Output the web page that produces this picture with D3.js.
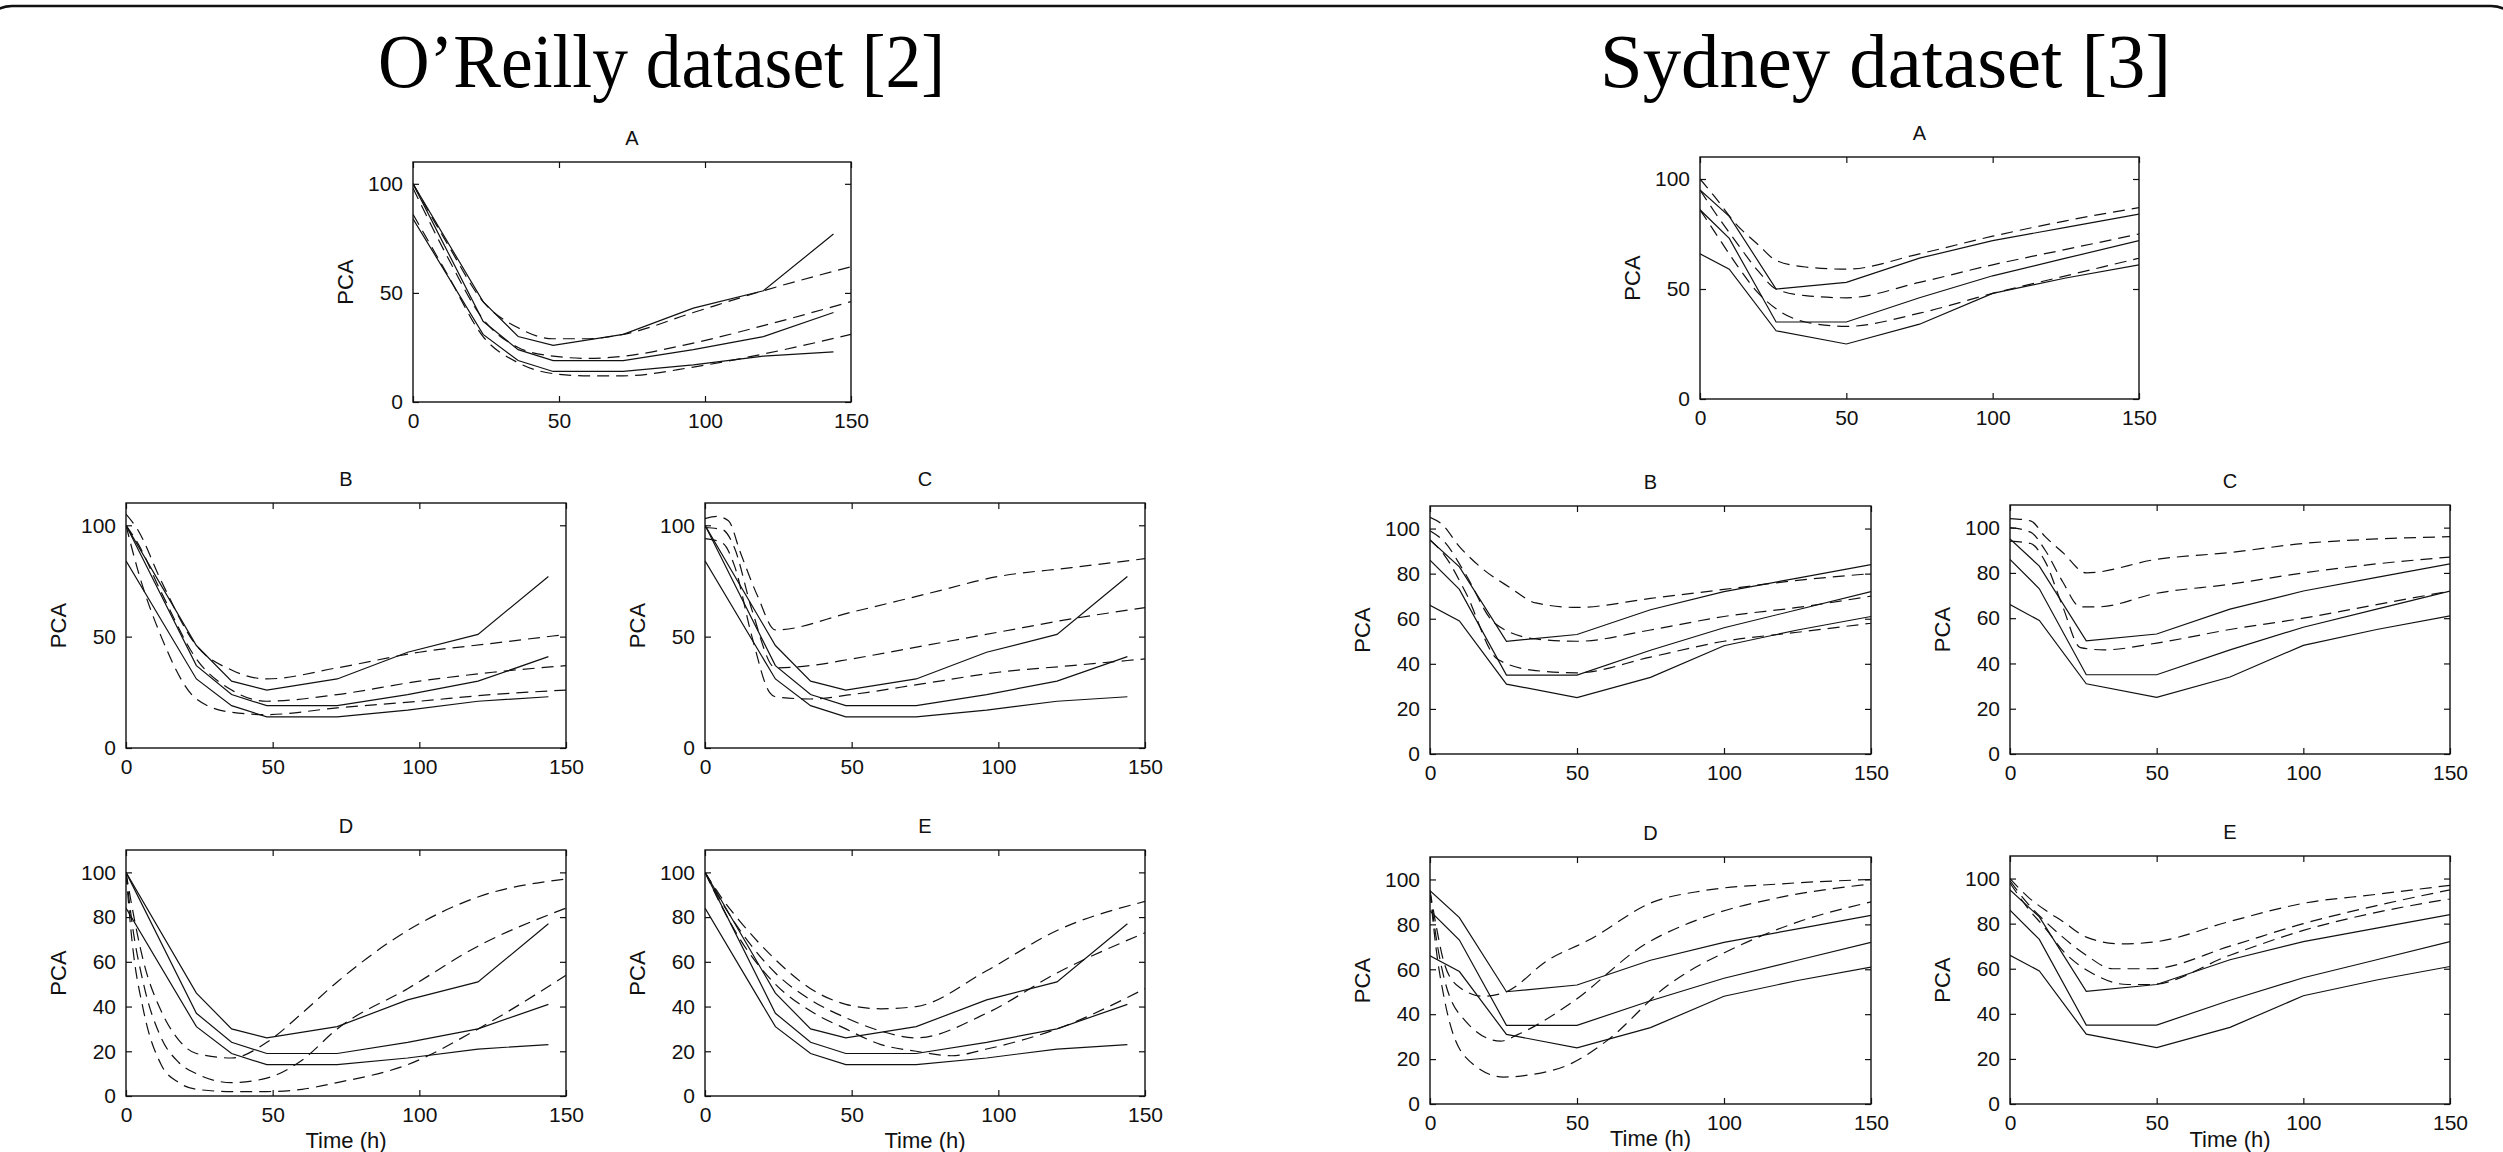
<!DOCTYPE html>
<html>
<head>
<meta charset="utf-8">
<script src="https://cdn.jsdelivr.net/npm/d3@7"></script>
<style>
  body { margin: 0; background: #fff; }
  svg { display: block; }
  .tick-label { font-family: "Liberation Sans", Arial, sans-serif; font-size: 21px; fill: #111; }
  .panel-title { font-family: "Liberation Sans", Arial, sans-serif; font-size: 20px; fill: #111; }
  .axis-label { font-family: "Liberation Sans", Arial, sans-serif; font-size: 22px; fill: #111; }
  .big-title { font-family: "Liberation Serif", "Times New Roman", serif; font-size: 76px; fill: #000; }
</style>
</head>
<body>
<div id="chart"></div>
<script>
'use strict';

// ---- data ----
// measured PCA values (solid lines), same in every panel of a dataset
const oreillyTimes = [0, 24, 36, 48, 72, 96, 120, 144];
const oreillyHigh  = [100, 46, 30, 26, 31, 43, 51, 77];
const oreillyMid   = [100, 37, 24, 19, 19, 24, 30, 41];
const oreillyLow   = [84, 31, 19, 14, 14, 17, 21, 23];

const sydneyTimes = [0, 10, 26, 50, 75, 100, 125, 150];
const sydneyHigh  = [95, 83, 50, 53, 64, 72, 78, 84];
const sydneyMid   = [86, 73, 35, 35, 46, 56, 64, 72];
const sydneyLow   = [66, 59, 31, 25, 34, 48, 55, 61];

// simulated curves (dashed lines), [time, PCA] pairs
const oreillySimA = [
  [[0,100],[12,72],[24,46],[36,34],[48,29],[60,29],[72,31],[96,41],[120,51],[150,62]],
  [[0,98],[12,66],[24,38],[36,25],[48,21],[60,20],[72,21],[96,27],[120,35],[150,46]],
  [[0,86],[12,58],[24,30],[36,18],[48,13],[60,12],[72,12],[96,16],[120,22],[150,31]]
];
const oreillySimB = [
  [[0,105],[4,98],[12,75],[24,46],[36,35],[48,31],[72,36],[100,43],[125,47],[150,51]],
  [[0,100],[4,92],[12,70],[24,40],[36,26],[48,21],[72,24],[100,30],[125,34],[150,37]],
  [[0,100],[4,80],[12,50],[24,22],[36,16],[48,15],[72,18],[100,21],[125,24],[150,26]]
];
const oreillySimC = [
  [[0,103],[4,104],[8,102],[12,88],[18,68],[24,53],[50,61],[75,69],[100,77],[125,81],[150,85]],
  [[0,99],[6,98],[10,90],[16,62],[24,36],[36,37],[50,40],[75,46],[100,52],[125,58],[150,63]],
  [[0,94],[6,92],[10,82],[16,50],[22,25],[24,23],[36,22],[50,24],[75,29],[100,34],[125,37],[150,40]]
];
const oreillySimD = [
  [[0,100],[2,85],[6,60],[12,38],[18,25],[24,19],[36,17],[48,24],[60,37],[72,51],[96,74],[120,89],[150,97]],
  [[0,100],[2,78],[6,50],[12,26],[18,15],[24,10],[36,6],[48,8],[60,16],[72,30],[96,48],[120,67],[150,84]],
  [[0,100],[2,70],[6,38],[12,14],[18,6],[24,3],[36,2],[48,2],[60,3],[72,6],[96,14],[120,30],[150,54]]
];
const oreillySimE = [
  [[0,100],[6,88],[12,78],[24,61],[36,48],[48,41],[60,39],[72,40],[96,56],[120,74],[150,87]],
  [[0,100],[6,86],[12,74],[24,55],[36,43],[48,35],[60,29],[72,26],[96,37],[120,55],[150,73]],
  [[0,100],[6,84],[12,70],[24,50],[36,38],[48,30],[60,23],[72,20],[84,18],[96,21],[120,30],[150,48]]
];

const sydneySimA = [
  [[0,100],[5,92],[12,80],[20,70],[26,63],[36,60],[50,59],[75,66],[100,74],[125,81],[150,87]],
  [[0,95],[5,85],[12,72],[20,58],[26,50],[36,47],[50,46],[75,53],[100,61],[125,68],[150,75]],
  [[0,86],[5,76],[12,62],[20,48],[26,41],[36,35],[50,33],[75,39],[100,48],[125,56],[150,64]]
];
const sydneySimB = [
  [[0,105],[4,102],[10,92],[18,82],[27,74],[36,67],[50,65],[75,69],[100,73],[125,77],[150,80]],
  [[0,99],[5,94],[12,80],[22,58],[36,51],[50,50],[75,55],[100,61],[125,65],[150,70]],
  [[0,95],[5,88],[12,72],[23,42],[36,37],[50,36],[75,43],[100,50],[125,54],[150,58]]
];
const sydneySimC = [
  [[0,104],[7,103],[12,96],[18,89],[26,80],[50,86],[75,89],[100,93],[125,95],[150,96]],
  [[0,100],[7,98],[12,90],[18,76],[24,65],[30,65],[50,71],[75,75],[100,80],[125,84],[150,87]],
  [[0,94],[7,93],[12,85],[18,65],[24,47],[32,46],[50,49],[75,55],[100,60],[125,66],[150,72]]
];
const sydneySimD = [
  [[0,95],[2,80],[5,62],[10,52],[18,48],[26,50],[40,64],[54,73],[76,90],[93,95],[119,98],[150,100]],
  [[0,95],[2,75],[5,55],[12,37],[24,28],[30,31],[48,45],[73,71],[93,83],[119,92],[150,98]],
  [[0,95],[2,70],[5,46],[12,21],[25,12],[34,13],[48,18],[60,28],[80,52],[106,71],[125,81],[150,90]]
];
const sydneySimE = [
  [[0,100],[6,92],[12,86],[18,81],[26,74],[38,71],[50,72],[75,81],[100,89],[125,93],[150,97]],
  [[0,99],[6,89],[12,81],[18,74],[26,66],[35,60],[48,60],[75,70],[100,80],[125,88],[150,95]],
  [[0,98],[6,87],[12,78],[18,68],[28,58],[40,53],[48,53],[75,66],[100,77],[125,85],[150,91]]
];

const xTicks = [0, 50, 100, 150];
const yTicksCoarse = [0, 50, 100];
const yTicksFine = [0, 20, 40, 60, 80, 100];
const datasetTitles = ["O\u2019Reilly dataset [2]", "Sydney dataset [3]"];

// ---- layout ----
const W = 2503, H = 1152;
const svg = d3.select("#chart").append("svg").attr("width", W).attr("height", H);

// rounded frame, only the top edge and top-left corner show
svg.append("rect")
  .attr("x", -18).attr("y", 6)
  .attr("width", W + 36).attr("height", H + 60)
  .attr("rx", 30)
  .attr("fill", "none").attr("stroke", "#111").attr("stroke-width", 2.5);

// big titles, slightly condensed like the original slide
svg.append("text").attr("class", "big-title").attr("x", 378).attr("y", 87)
  .attr("textLength", 567).attr("lengthAdjust", "spacingAndGlyphs")
  .text(datasetTitles[0]);
svg.append("text").attr("class", "big-title").attr("x", 1600).attr("y", 87)
  .attr("textLength", 571).attr("lengthAdjust", "spacingAndGlyphs")
  .text(datasetTitles[1]);

const oreillyObs = [oreillyHigh, oreillyMid, oreillyLow].map(v => v.map((d, i) => [oreillyTimes[i], d]));
const sydneyObs = [sydneyHigh, sydneyMid, sydneyLow].map(v => v.map((d, i) => [sydneyTimes[i], d]));

// box positions in px: x0, x1, y0(top), y1(bottom); tOff = offset of "Time (h)" baseline
const panels = [
  { name: "A", box: [413, 851, 162, 402],   yt: yTicksCoarse, obs: oreillyObs, sim: oreillySimA },
  { name: "B", box: [126, 566, 503, 748],   yt: yTicksCoarse, obs: oreillyObs, sim: oreillySimB },
  { name: "C", box: [705, 1145, 503, 748],  yt: yTicksCoarse, obs: oreillyObs, sim: oreillySimC },
  { name: "D", box: [126, 566, 850, 1096],  yt: yTicksFine,   obs: oreillyObs, sim: oreillySimD, tOff: 52 },
  { name: "E", box: [705, 1145, 850, 1096], yt: yTicksFine,   obs: oreillyObs, sim: oreillySimE, tOff: 52 },
  { name: "A", box: [1700, 2139, 157, 399], yt: yTicksCoarse, obs: sydneyObs, sim: sydneySimA },
  { name: "B", box: [1430, 1871, 506, 754], yt: yTicksFine,   obs: sydneyObs, sim: sydneySimB },
  { name: "C", box: [2010, 2450, 505, 754], yt: yTicksFine,   obs: sydneyObs, sim: sydneySimC },
  { name: "D", box: [1430, 1871, 857, 1104], yt: yTicksFine,  obs: sydneyObs, sim: sydneySimD, tOff: 42 },
  { name: "E", box: [2010, 2450, 856, 1104], yt: yTicksFine,  obs: sydneyObs, sim: sydneySimE, tOff: 43 }
];

panels.forEach(p => drawPanel(p));

function drawPanel(p) {
  const [x0, x1, y0, y1] = p.box;
  const x = d3.scaleLinear().domain([0, 150]).range([x0, x1]);
  const y = d3.scaleLinear().domain([0, 110]).range([y1, y0]);
  const g = svg.append("g");

  const clipId = "clip" + x0 + "_" + y0;
  g.append("clipPath").attr("id", clipId)
    .append("rect").attr("x", x0).attr("y", y0).attr("width", x1 - x0).attr("height", y1 - y0);

  // inward ticks on all four sides (matlab look)
  const tickLen = 6;
  g.append("g").attr("transform", `translate(0,${y1})`)
    .call(d3.axisBottom(x).tickValues(xTicks).tickSize(-tickLen).tickPadding(11).tickFormat(d3.format("d")));
  g.append("g").attr("transform", `translate(0,${y0})`)
    .call(d3.axisTop(x).tickValues(xTicks).tickSize(-tickLen).tickFormat(""));
  g.append("g").attr("transform", `translate(${x0},0)`)
    .call(d3.axisLeft(y).tickValues(p.yt).tickSize(-tickLen).tickPadding(10).tickFormat(d3.format("d")));
  g.append("g").attr("transform", `translate(${x1},0)`)
    .call(d3.axisRight(y).tickValues(p.yt).tickSize(-tickLen).tickFormat(""));

  g.selectAll(".domain").remove();
  g.selectAll(".tick line").attr("stroke", "#111").attr("stroke-width", 1.2);
  g.selectAll(".tick text").attr("class", "tick-label").attr("fill", null);

  g.append("rect")
    .attr("x", x0).attr("y", y0).attr("width", x1 - x0).attr("height", y1 - y0)
    .attr("fill", "none").attr("stroke", "#111").attr("stroke-width", 1.4);

  const plot = g.append("g").attr("clip-path", `url(#${clipId})`);

  const solid = d3.line().x(d => x(d[0])).y(d => y(d[1]));
  const dashed = d3.line().x(d => x(d[0])).y(d => y(d[1])).curve(d3.curveMonotoneX);

  plot.selectAll(".obs").data(p.obs).enter().append("path")
    .attr("class", "obs")
    .attr("d", solid)
    .attr("fill", "none").attr("stroke", "#111").attr("stroke-width", 1.2);

  plot.selectAll(".sim").data(p.sim).enter().append("path")
    .attr("class", "sim")
    .attr("d", dashed)
    .attr("fill", "none").attr("stroke", "#111").attr("stroke-width", 1.2)
    .attr("stroke-dasharray", "12,7");

  g.append("text").attr("class", "panel-title")
    .attr("x", (x0 + x1) / 2).attr("y", y0 - 17)
    .attr("text-anchor", "middle").text(p.name);

  g.append("text").attr("class", "axis-label")
    .attr("transform", `translate(${x0 - 60},${(y0 + y1) / 2}) rotate(-90)`)
    .attr("text-anchor", "middle").text("PCA");

  if (p.tOff) {
    g.append("text").attr("class", "axis-label")
      .attr("x", (x0 + x1) / 2).attr("y", y1 + p.tOff)
      .attr("text-anchor", "middle").text("Time (h)");
  }
}
</script>
</body>
</html>
